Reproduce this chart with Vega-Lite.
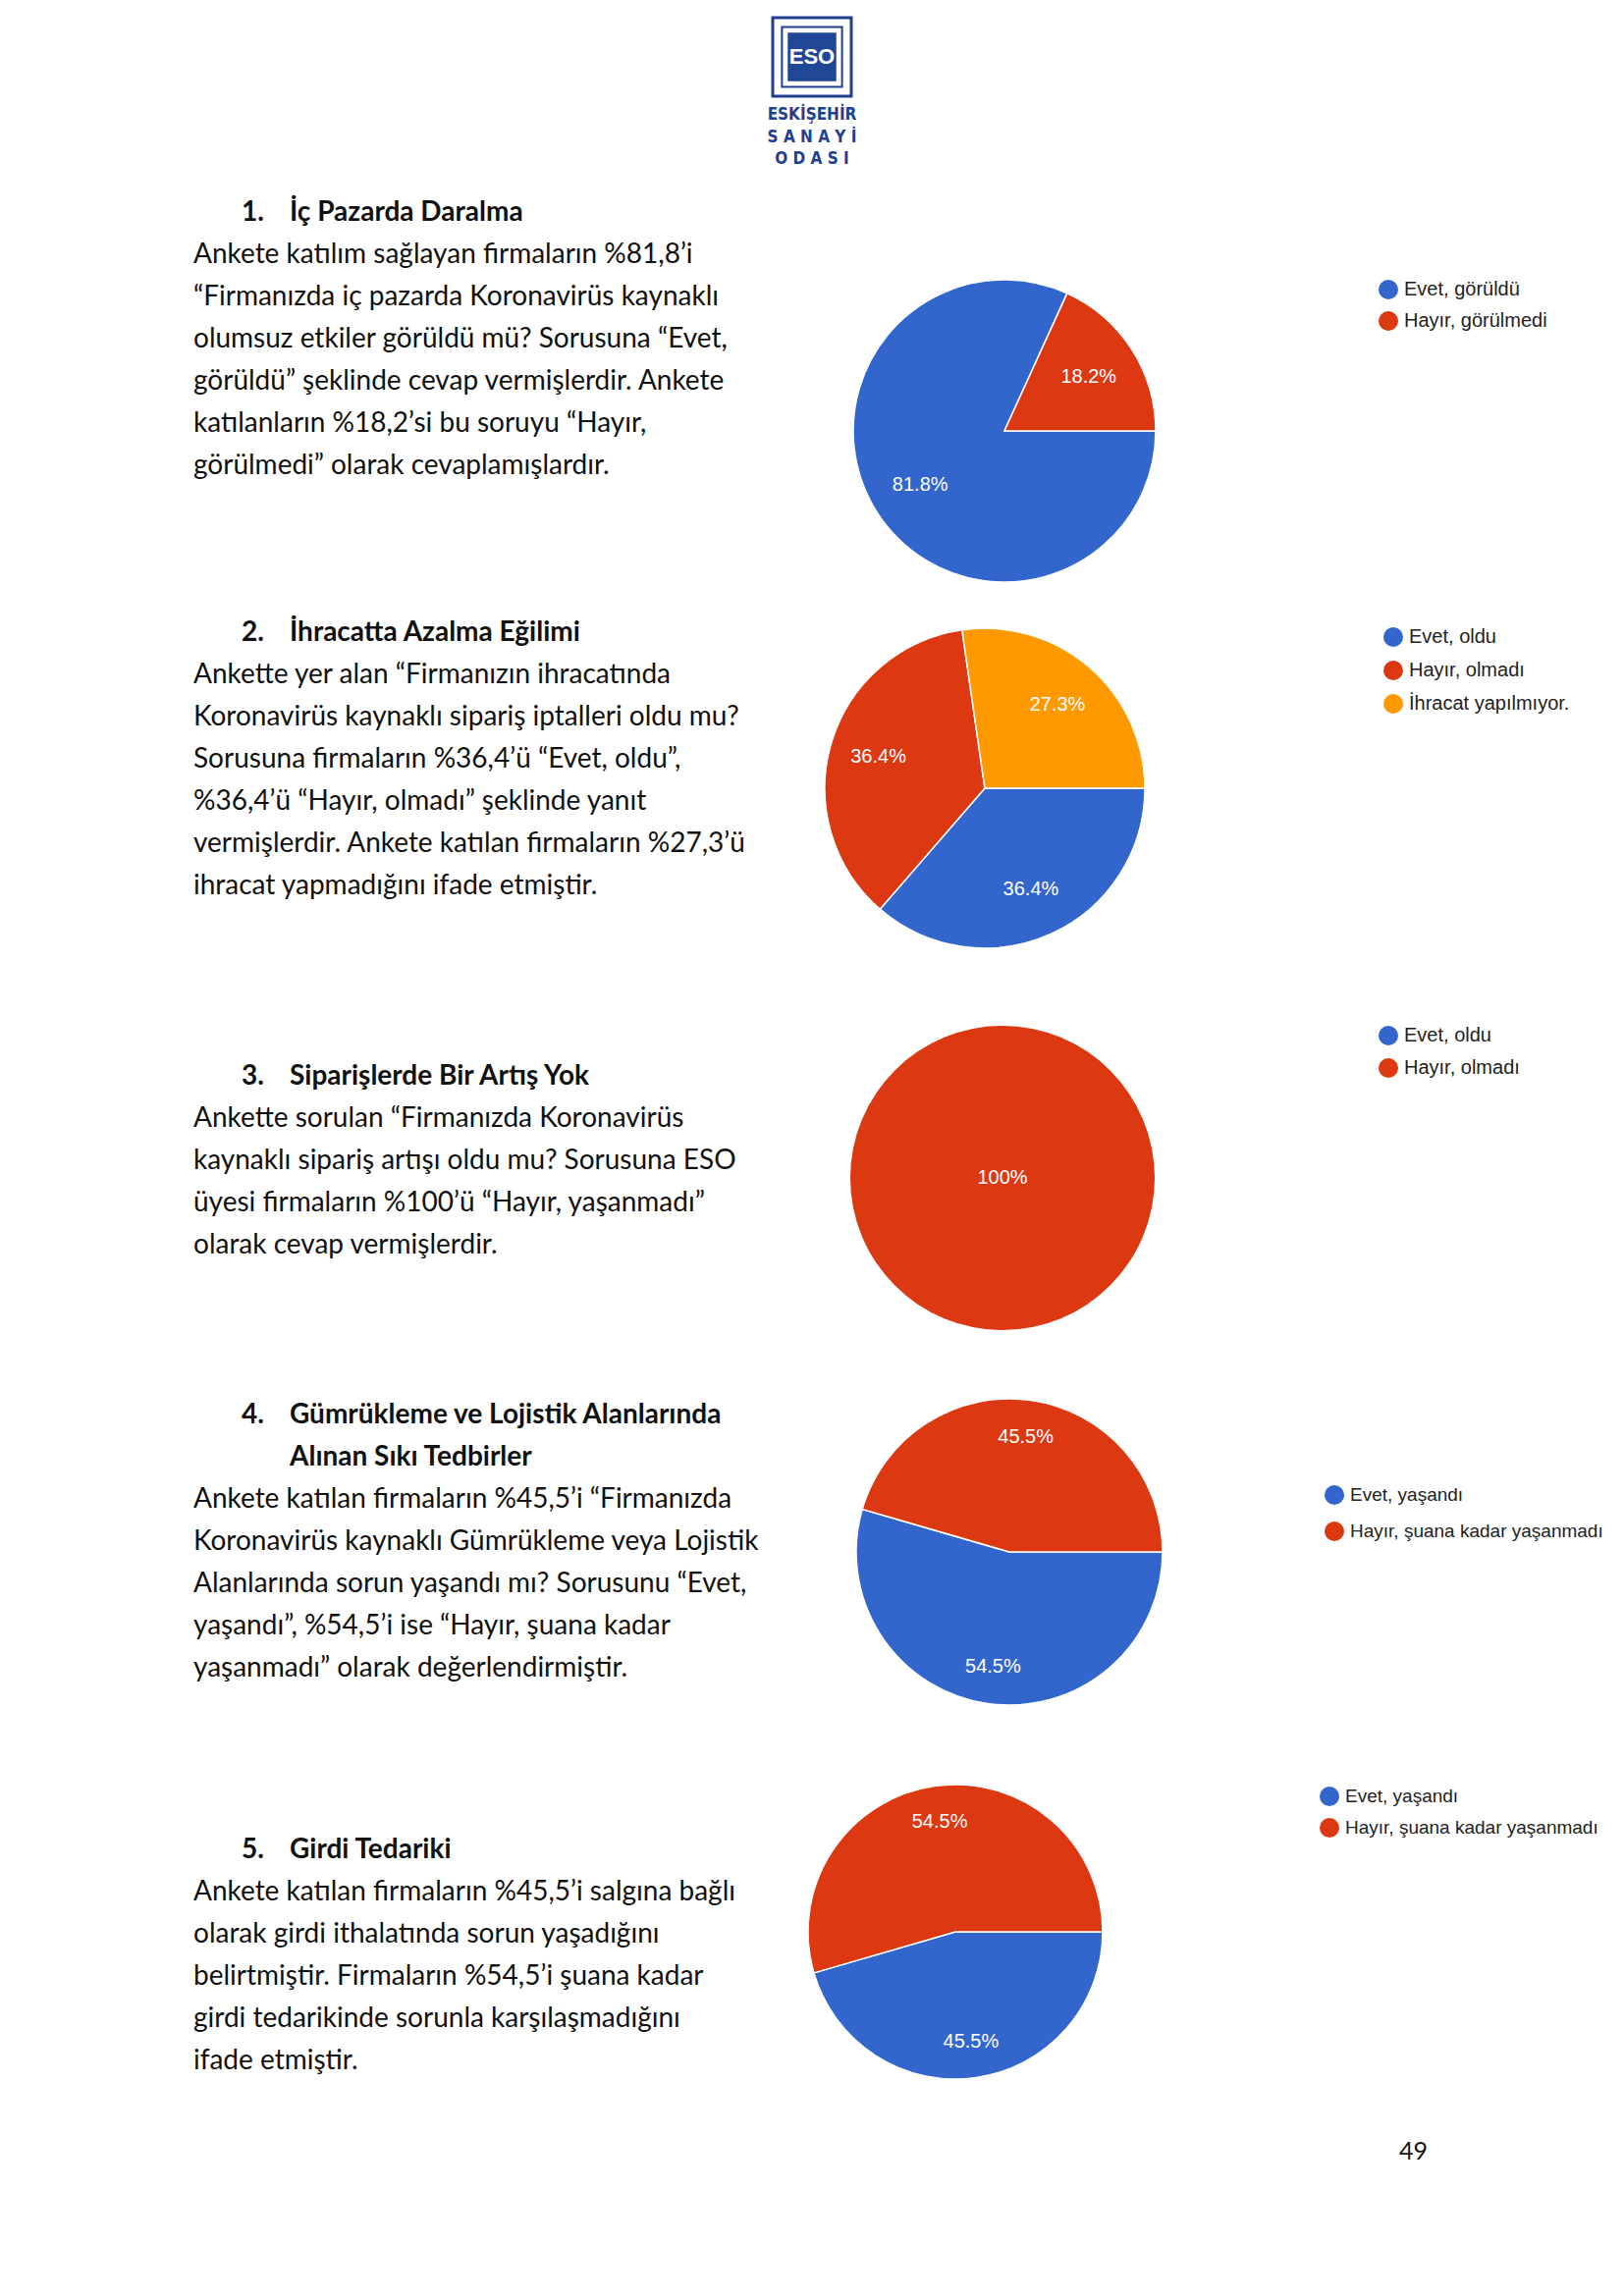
{
  "$schema": "https://vega.github.io/schema/vega-lite/v6.json",
  "background": "white",
  "padding": {"left": 197, "top": 0, "right": 0, "bottom": 0},
  "spacing": 0,
  "config": {"view": {"stroke": null}},
  "resolve": {"scale": {"color": "independent", "theta": "independent"}, "legend": {"color": "independent"}},
  "datasets": {
    "logo": [{"ad": "ESO"}],
    "logoyazi": [
      {"satir": 0, "yazi": "ESKİŞEHİR"},
      {"satir": 1, "yazi": "S A N A Y İ"},
      {"satir": 2, "yazi": "O D A S I"}
    ],
    "bos": [{"bos": ""}],
    "metin1": [
      {"satir": 0, "tur": "num", "metin": "1."},
      {"satir": 0, "tur": "head", "metin": "İç Pazarda Daralma"},
      {"satir": 1, "tur": "body", "metin": "Ankete katılım sağlayan firmaların %81,8’i"},
      {"satir": 2, "tur": "body", "metin": "“Firmanızda iç pazarda Koronavirüs kaynaklı"},
      {"satir": 3, "tur": "body", "metin": "olumsuz etkiler görüldü mü? Sorusuna “Evet,"},
      {"satir": 4, "tur": "body", "metin": "görüldü” şeklinde cevap vermişlerdir. Ankete"},
      {"satir": 5, "tur": "body", "metin": "katılanların %18,2’si bu soruyu “Hayır,"},
      {"satir": 6, "tur": "body", "metin": "görülmedi” olarak cevaplamışlardır."}
    ],
    "metin2": [
      {"satir": 0, "tur": "num", "metin": "2."},
      {"satir": 0, "tur": "head", "metin": "İhracatta Azalma Eğilimi"},
      {"satir": 1, "tur": "body", "metin": "Ankette yer alan “Firmanızın ihracatında"},
      {"satir": 2, "tur": "body", "metin": "Koronavirüs kaynaklı sipariş iptalleri oldu mu?"},
      {"satir": 3, "tur": "body", "metin": "Sorusuna firmaların %36,4’ü “Evet, oldu”,"},
      {"satir": 4, "tur": "body", "metin": "%36,4’ü “Hayır, olmadı” şeklinde yanıt"},
      {"satir": 5, "tur": "body", "metin": "vermişlerdir. Ankete katılan firmaların %27,3’ü"},
      {"satir": 6, "tur": "body", "metin": "ihracat yapmadığını ifade etmiştir."}
    ],
    "metin3": [
      {"satir": 0, "tur": "num", "metin": "3."},
      {"satir": 0, "tur": "head", "metin": "Siparişlerde Bir Artış Yok"},
      {"satir": 1, "tur": "body", "metin": "Ankette sorulan “Firmanızda Koronavirüs"},
      {"satir": 2, "tur": "body", "metin": "kaynaklı sipariş artışı oldu mu? Sorusuna ESO"},
      {"satir": 3, "tur": "body", "metin": "üyesi firmaların %100’ü “Hayır, yaşanmadı”"},
      {"satir": 4, "tur": "body", "metin": "olarak cevap vermişlerdir."}
    ],
    "metin4": [
      {"satir": 0, "tur": "num", "metin": "4."},
      {"satir": 0, "tur": "head", "metin": "Gümrükleme ve Lojistik Alanlarında"},
      {"satir": 1, "tur": "head", "metin": "Alınan Sıkı Tedbirler"},
      {"satir": 2, "tur": "body", "metin": "Ankete katılan firmaların %45,5’i “Firmanızda"},
      {"satir": 3, "tur": "body", "metin": "Koronavirüs kaynaklı Gümrükleme veya Lojistik"},
      {"satir": 4, "tur": "body", "metin": "Alanlarında sorun yaşandı mı? Sorusunu “Evet,"},
      {"satir": 5, "tur": "body", "metin": "yaşandı”, %54,5’i ise “Hayır, şuana kadar"},
      {"satir": 6, "tur": "body", "metin": "yaşanmadı”  olarak değerlendirmiştir."}
    ],
    "metin5": [
      {"satir": 0, "tur": "num", "metin": "5."},
      {"satir": 0, "tur": "head", "metin": "Girdi Tedariki"},
      {"satir": 1, "tur": "body", "metin": "Ankete katılan firmaların %45,5’i salgına bağlı"},
      {"satir": 2, "tur": "body", "metin": "olarak girdi ithalatında sorun yaşadığını"},
      {"satir": 3, "tur": "body", "metin": "belirtmiştir. Firmaların %54,5’i şuana kadar"},
      {"satir": 4, "tur": "body", "metin": "girdi tedarikinde sorunla karşılaşmadığını"},
      {"satir": 5, "tur": "body", "metin": "ifade etmiştir."}
    ],
    "pasta1": [
      {"cevap": "Evet, görüldü", "oran": 0.818, "sira": 1},
      {"cevap": "Hayır, görülmedi", "oran": 0.182, "sira": 2}
    ],
    "pasta2": [
      {"cevap": "Evet, oldu", "oran": 0.364, "sira": 1},
      {"cevap": "Hayır, olmadı", "oran": 0.364, "sira": 2},
      {"cevap": "İhracat yapılmıyor.", "oran": 0.273, "sira": 3}
    ],
    "pasta3": [
      {"cevap": "Evet, oldu", "oran": 0, "sira": 1},
      {"cevap": "Hayır, olmadı", "oran": 1.0, "sira": 2}
    ],
    "pasta4": [
      {"cevap": "Evet, yaşandı", "oran": 0.545, "sira": 1},
      {"cevap": "Hayır, şuana kadar yaşanmadı", "oran": 0.455, "sira": 2}
    ],
    "pasta5": [
      {"cevap": "Evet, yaşandı", "oran": 0.455, "sira": 1},
      {"cevap": "Hayır, şuana kadar yaşanmadı", "oran": 0.545, "sira": 2}
    ],
    "sayfa": [{"no": "49"}]
  },
  "vconcat": [
    {
      "vconcat": [
        {
          "width": 1260, "height": 116,
          "data": {"name": "logo"},
          "layer": [
            {"mark": {"type": "point", "shape": "square", "size": 6400, "filled": false, "stroke": "#1f3f8f", "strokeWidth": 3, "opacity": 1}},
            {"mark": {"type": "point", "shape": "square", "size": 3750, "filled": false, "stroke": "#1f3f8f", "strokeWidth": 2, "opacity": 1}},
            {"mark": {"type": "point", "shape": "square", "size": 2450, "filled": true, "fill": "#1f4796", "strokeWidth": 0, "opacity": 1}},
            {"mark": {"type": "text", "font": "Liberation Sans", "fontWeight": "bold", "fontSize": 22, "color": "white", "baseline": "middle"}, "encoding": {"text": {"field": "ad"}}}
          ]
        },
        {
          "width": 1260, "height": 79,
          "data": {"name": "logoyazi"},
          "mark": {"type": "text", "font": "Liberation Sans Narrow, DejaVu Sans Condensed, Roboto", "fontWeight": "bold", "fontSize": 17, "color": "#1f3f8f", "baseline": "alphabetic"},
          "encoding": {
            "y": {"field": "satir", "type": "quantitative", "scale": {"domain": [0, 2], "range": [6, 51], "nice": false, "zero": false}, "axis": null},
            "text": {"field": "yazi"}
          }
        }
      ],
      "spacing": 0,
      "bounds": "flush"
    },
    {
      "hconcat": [
        {
          "vconcat": [
            {
              "width": 623, "height": 428,
              "data": {"name": "metin1"},
              "encoding": {
                "x": {"field": "tur", "type": "nominal", "scale": {"type": "point", "domain": ["body", "num", "head"], "range": [0, 98], "padding": 0}, "axis": null},
                "y": {"field": "satir", "type": "quantitative", "scale": {"domain": [0, 10], "range": [30, 460], "nice": false, "zero": false}, "axis": null},
                "text": {"field": "metin"}
              },
              "layer": [
                {"transform": [{"filter": "datum.tur !== 'body'"}], "mark": {"type": "text", "align": "left", "baseline": "alphabetic", "font": "Lato", "fontSize": 28, "fontWeight": "bold", "color": "#111111"}},
                {"transform": [{"filter": "datum.tur === 'body'"}], "mark": {"type": "text", "align": "left", "baseline": "alphabetic", "font": "Lato", "fontSize": 28, "color": "#111111"}}
              ]
            },
            {
              "width": 623, "height": 452,
              "data": {"name": "metin2"},
              "encoding": {
                "x": {"field": "tur", "type": "nominal", "scale": {"type": "point", "domain": ["body", "num", "head"], "range": [0, 98], "padding": 0}, "axis": null},
                "y": {"field": "satir", "type": "quantitative", "scale": {"domain": [0, 10], "range": [30, 460], "nice": false, "zero": false}, "axis": null},
                "text": {"field": "metin"}
              },
              "layer": [
                {"transform": [{"filter": "datum.tur !== 'body'"}], "mark": {"type": "text", "align": "left", "baseline": "alphabetic", "font": "Lato", "fontSize": 28, "fontWeight": "bold", "color": "#111111"}},
                {"transform": [{"filter": "datum.tur === 'body'"}], "mark": {"type": "text", "align": "left", "baseline": "alphabetic", "font": "Lato", "fontSize": 28, "color": "#111111"}}
              ]
            },
            {
              "width": 623, "height": 345,
              "data": {"name": "metin3"},
              "encoding": {
                "x": {"field": "tur", "type": "nominal", "scale": {"type": "point", "domain": ["body", "num", "head"], "range": [0, 98], "padding": 0}, "axis": null},
                "y": {"field": "satir", "type": "quantitative", "scale": {"domain": [0, 10], "range": [30, 460], "nice": false, "zero": false}, "axis": null},
                "text": {"field": "metin"}
              },
              "layer": [
                {"transform": [{"filter": "datum.tur !== 'body'"}], "mark": {"type": "text", "align": "left", "baseline": "alphabetic", "font": "Lato", "fontSize": 28, "fontWeight": "bold", "color": "#111111"}},
                {"transform": [{"filter": "datum.tur === 'body'"}], "mark": {"type": "text", "align": "left", "baseline": "alphabetic", "font": "Lato", "fontSize": 28, "color": "#111111"}}
              ]
            },
            {
              "width": 623, "height": 443,
              "data": {"name": "metin4"},
              "encoding": {
                "x": {"field": "tur", "type": "nominal", "scale": {"type": "point", "domain": ["body", "num", "head"], "range": [0, 98], "padding": 0}, "axis": null},
                "y": {"field": "satir", "type": "quantitative", "scale": {"domain": [0, 10], "range": [30, 460], "nice": false, "zero": false}, "axis": null},
                "text": {"field": "metin"}
              },
              "layer": [
                {"transform": [{"filter": "datum.tur !== 'body'"}], "mark": {"type": "text", "align": "left", "baseline": "alphabetic", "font": "Lato", "fontSize": 28, "fontWeight": "bold", "color": "#111111"}},
                {"transform": [{"filter": "datum.tur === 'body'"}], "mark": {"type": "text", "align": "left", "baseline": "alphabetic", "font": "Lato", "fontSize": 28, "color": "#111111"}}
              ]
            },
            {
              "width": 623, "height": 317,
              "data": {"name": "metin5"},
              "encoding": {
                "x": {"field": "tur", "type": "nominal", "scale": {"type": "point", "domain": ["body", "num", "head"], "range": [0, 98], "padding": 0}, "axis": null},
                "y": {"field": "satir", "type": "quantitative", "scale": {"domain": [0, 10], "range": [30, 460], "nice": false, "zero": false}, "axis": null},
                "text": {"field": "metin"}
              },
              "layer": [
                {"transform": [{"filter": "datum.tur !== 'body'"}], "mark": {"type": "text", "align": "left", "baseline": "alphabetic", "font": "Lato", "fontSize": 28, "fontWeight": "bold", "color": "#111111"}},
                {"transform": [{"filter": "datum.tur === 'body'"}], "mark": {"type": "text", "align": "left", "baseline": "alphabetic", "font": "Lato", "fontSize": 28, "color": "#111111"}}
              ]
            }
          ],
          "spacing": 0,
          "bounds": "flush"
        },
        {
          "vconcat": [
            {
              "width": 1, "height": 71,
              "data": {"name": "bos"},
              "mark": {"type": "text"},
              "encoding": {"text": {"field": "bos"}}
            },
            {
              "width": 400, "height": 346,
              "data": {"name": "pasta1"},
              "transform": [{"filter": "datum.oran > 0"}],
              "encoding": {
                "theta": {"field": "oran", "type": "quantitative", "stack": true, "scale": {"range": [1.5707963, 7.8539816]}},
                "order": {"field": "sira", "type": "quantitative"},
                "color": {"field": "cevap", "type": "nominal",
                  "scale": {"domain": ["Evet, görüldü", "Hayır, görülmedi"], "range": ["#3366cc", "#dc3912"]},
                  "legend": {"title": null, "orient": "none", "legendX": 581, "legendY": 19, "symbolType": "circle", "symbolSize": 400, "symbolStrokeWidth": 0, "labelFont": "Liberation Sans", "labelFontSize": 20, "labelColor": "#222222", "rowPadding": 12, "labelOffset": 6, "padding": 0, "labelLimit": 400}}
              },
              "layer": [
                {"mark": {"type": "arc", "outerRadius": 154, "stroke": "white", "strokeWidth": 1.5}},
                {"mark": {"type": "text", "radius": 102, "font": "Liberation Sans", "fontSize": 20},
                 "encoding": {"text": {"field": "oran", "type": "quantitative", "format": ".1~%"}, "color": {"value": "white"}, "detail": {"field": "cevap"}}}
              ]
            },
            {
              "width": 360, "height": 382,
              "data": {"name": "pasta2"},
              "transform": [{"filter": "datum.oran > 0"}],
              "encoding": {
                "theta": {"field": "oran", "type": "quantitative", "stack": true, "scale": {"range": [1.5707963, 7.8539816]}},
                "order": {"field": "sira", "type": "quantitative"},
                "color": {"field": "cevap", "type": "nominal",
                  "scale": {"domain": ["Evet, oldu", "Hayır, olmadı", "İhracat yapılmıyor."], "range": ["#3366cc", "#dc3912", "#ff9900"]},
                  "legend": {"title": null, "orient": "none", "legendX": 586, "legendY": 27, "symbolType": "circle", "symbolSize": 400, "symbolStrokeWidth": 0, "labelFont": "Liberation Sans", "labelFontSize": 20, "labelColor": "#222222", "rowPadding": 14, "labelOffset": 6, "padding": 0, "labelLimit": 400}}
              },
              "layer": [
                {"mark": {"type": "arc", "outerRadius": 163, "stroke": "white", "strokeWidth": 1.5}},
                {"mark": {"type": "text", "radius": 113, "font": "Liberation Sans", "fontSize": 20},
                 "encoding": {"text": {"field": "oran", "type": "quantitative", "format": ".1~%"}, "color": {"value": "white"}, "detail": {"field": "cevap"}}}
              ]
            },
            {
              "width": 396, "height": 412,
              "data": {"name": "pasta3"},
              "transform": [{"filter": "datum.oran > 0"}],
              "encoding": {
                "theta": {"field": "oran", "type": "quantitative", "stack": true, "scale": {"range": [1.5707963, 7.8539816]}},
                "order": {"field": "sira", "type": "quantitative"},
                "color": {"field": "cevap", "type": "nominal",
                  "scale": {"domain": ["Evet, oldu", "Hayır, olmadı"], "range": ["#3366cc", "#dc3912"]},
                  "legend": {"title": null, "orient": "none", "legendX": 581, "legendY": 51, "symbolType": "circle", "symbolSize": 400, "symbolStrokeWidth": 0, "labelFont": "Liberation Sans", "labelFontSize": 20, "labelColor": "#222222", "rowPadding": 13, "labelOffset": 6, "padding": 0, "labelLimit": 400}}
              },
              "layer": [
                {"mark": {"type": "arc", "outerRadius": 155, "strokeWidth": 0}},
                {"mark": {"type": "text", "radius": 0, "font": "Liberation Sans", "fontSize": 20},
                 "encoding": {"text": {"field": "oran", "type": "quantitative", "format": ".1~%"}, "color": {"value": "white"}, "detail": {"field": "cevap"}}}
              ]
            },
            {
              "width": 410, "height": 350,
              "data": {"name": "pasta4"},
              "transform": [{"filter": "datum.oran > 0"}],
              "encoding": {
                "theta": {"field": "oran", "type": "quantitative", "stack": true, "scale": {"range": [1.5707963, 7.8539816]}},
                "order": {"field": "sira", "type": "quantitative"},
                "color": {"field": "cevap", "type": "nominal",
                  "scale": {"domain": ["Evet, yaşandı", "Hayır, şuana kadar yaşanmadı"], "range": ["#3366cc", "#dc3912"]},
                  "legend": {"title": null, "orient": "none", "legendX": 526, "legendY": 107, "symbolType": "circle", "symbolSize": 400, "symbolStrokeWidth": 0, "labelFont": "Liberation Sans", "labelFontSize": 19, "labelColor": "#222222", "rowPadding": 17, "labelOffset": 6, "padding": 0, "labelLimit": 400}}
              },
              "layer": [
                {"mark": {"type": "arc", "outerRadius": 156, "stroke": "white", "strokeWidth": 1.5}},
                {"mark": {"type": "text", "radius": 118, "font": "Liberation Sans", "fontSize": 20},
                 "encoding": {"text": {"field": "oran", "type": "quantitative", "format": ".1~%"}, "color": {"value": "white"}, "detail": {"field": "cevap"}}}
              ]
            },
            {
              "width": 300, "height": 424,
              "data": {"name": "pasta5"},
              "transform": [{"filter": "datum.oran > 0"}],
              "encoding": {
                "theta": {"field": "oran", "type": "quantitative", "stack": true, "scale": {"range": [1.5707963, 7.8539816]}},
                "order": {"field": "sira", "type": "quantitative"},
                "color": {"field": "cevap", "type": "nominal",
                  "scale": {"domain": ["Evet, yaşandı", "Hayır, şuana kadar yaşanmadı"], "range": ["#3366cc", "#dc3912"]},
                  "legend": {"title": null, "orient": "none", "legendX": 521, "legendY": 64, "symbolType": "circle", "symbolSize": 400, "symbolStrokeWidth": 0, "labelFont": "Liberation Sans", "labelFontSize": 19, "labelColor": "#222222", "rowPadding": 12, "labelOffset": 6, "padding": 0, "labelLimit": 400}}
              },
              "layer": [
                {"mark": {"type": "arc", "outerRadius": 150, "stroke": "white", "strokeWidth": 1.5}},
                {"mark": {"type": "text", "radius": 113, "font": "Liberation Sans", "fontSize": 20},
                 "encoding": {"text": {"field": "oran", "type": "quantitative", "format": ".1~%"}, "color": {"value": "white"}, "detail": {"field": "cevap"}}}
              ]
            }
          ],
          "spacing": 0,
          "bounds": "flush",
          "resolve": {"scale": {"color": "independent", "theta": "independent"}, "legend": {"color": "independent"}}
        }
      ],
      "spacing": 0,
      "resolve": {"scale": {"color": "independent", "theta": "independent"}, "legend": {"color": "independent"}}
    },
    {
      "width": 1257, "height": 20,
      "data": {"name": "sayfa"},
      "mark": {"type": "text", "x": "width", "align": "right", "baseline": "middle", "font": "Lato", "fontSize": 25, "color": "#111111"},
      "encoding": {"text": {"field": "no"}}
    }
  ]
}
